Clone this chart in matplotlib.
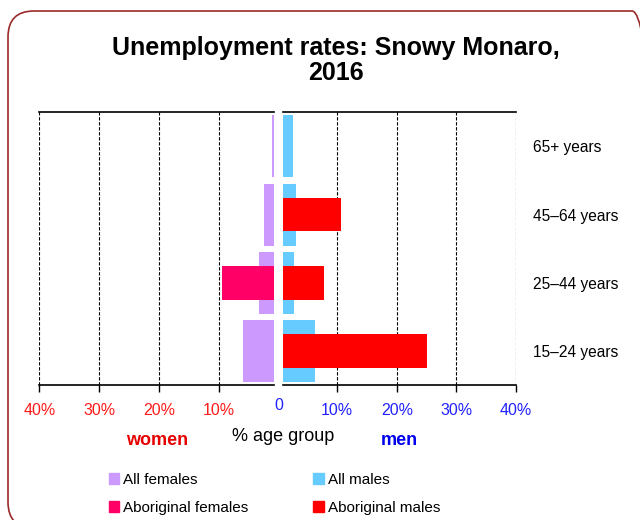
import numpy as np
import matplotlib
matplotlib.use('Agg')
import matplotlib.pyplot as plt
from matplotlib.patches import Patch, FancyBboxPatch
from matplotlib.transforms import blended_transform_factory

plt.rcParams['font.family'] = ['Liberation Sans', 'DejaVu Sans']

# data (bottom to top)
age_groups = ['15–24 years', '25–44 years', '45–64 years', '65+ years']
all_females = [5.9, 3.3, 2.4, 1.1]
aboriginal_females = [0, 9.5, 0, 0]
all_males = [6.3, 2.7, 3.1, 2.6]
aboriginal_males = [25.0, 7.7, 10.7, 0]

c_all_f = '#CC99FF'
c_all_m = '#66CCFF'
c_ab_f = '#FF0066'
c_ab_m = '#FF0000'
red_txt = '#FF1A1A'
blue_txt = '#2222FF'

fig = plt.figure(figsize=(6.4, 5.2), dpi=100)

# rounded border
border = FancyBboxPatch((0.08, -0.08), 6.50, 5.17,
                        boxstyle='round,pad=0,rounding_size=0.26',
                        transform=fig.dpi_scale_trans, fill=False,
                        edgecolor='#9B2A2A', linewidth=1.2)
fig.patches.append(border)

fig.text(0.525, 0.883, 'Unemployment rates: Snowy Monaro,\n2016', ha='center', va='center',
         fontsize=18, fontweight='bold', linespacing=1.05)

ax_l = fig.add_axes([0.0614, 0.259, 0.3667, 0.525])
ax_r = fig.add_axes([0.4417, 0.259, 0.3645, 0.525])

y = np.arange(len(age_groups))
ax_l.barh(y, all_females, height=0.91, color=c_all_f, zorder=2)
ax_l.barh(y, aboriginal_females, height=0.49, color=c_ab_f, zorder=3)
ax_r.barh(y, all_males, height=0.91, color=c_all_m, zorder=2)
ax_r.barh(y, aboriginal_males, height=0.49, color=c_ab_m, zorder=3)

ax_l.set_xlim(40, 0.75)
ax_r.set_xlim(0.83, 40)

for ax in (ax_l, ax_r):
    ax.set_ylim(-0.5, 3.5)
    ax.spines['left'].set_visible(False)
    ax.spines['right'].set_visible(False)
    ax.spines['top'].set_linewidth(1.2)
    ax.spines['bottom'].set_linewidth(1.2)
    ax.grid(axis='x', color='black', linestyle=(0, (3, 1.5)), linewidth=0.8, zorder=1)
    ax.set_axisbelow(True)
    ax.tick_params(axis='x', direction='out', length=5, width=1, pad=7.5, labelsize=11.5)

ax_l.set_xticks([40, 30, 20, 10])
ax_l.set_xticklabels(['40%', '30%', '20%', '10%'], color=red_txt)
ax_l.set_yticks([])

ax_r.set_xticks([10, 20, 30, 40])
ax_r.set_xticklabels(['10%', '20%', '30%', '40%'], color=blue_txt)
ax_r.yaxis.tick_right()
ax_r.set_yticks(y)
ax_r.set_yticklabels(age_groups, fontsize=11.2)
ax_r.tick_params(axis='y', length=0, pad=12)

# zero label shared by both sides
trans = blended_transform_factory(ax_r.transData, ax_r.transAxes)
ax_r.text(0.15, -0.045, '0', transform=trans, ha='center', va='top',
          color=blue_txt, fontsize=11.5, clip_on=False)

ax_l.set_xlabel('women', color='#E60000', fontweight='bold', fontsize=13, labelpad=10)
ax_r.set_xlabel('men', color='#0000EE', fontweight='bold', fontsize=13, labelpad=10)
fig.text(0.443, 0.16, '% age group', ha='center', va='center', fontsize=13)

handles = [Patch(color=c_all_f, label='All females'),
           Patch(color=c_ab_f, label='Aboriginal females'),
           Patch(color=c_all_m, label='All males'),
           Patch(color=c_ab_m, label='Aboriginal males')]
fig.legend(handles=handles, ncol=2, loc='upper left', bbox_to_anchor=(0.16, 0.103),
           frameon=False, fontsize=11, handlelength=0.7, handleheight=0.7,
           handletextpad=0.25, columnspacing=4.25, labelspacing=0.95, borderaxespad=0)

fig.savefig('out.png', dpi=100)
